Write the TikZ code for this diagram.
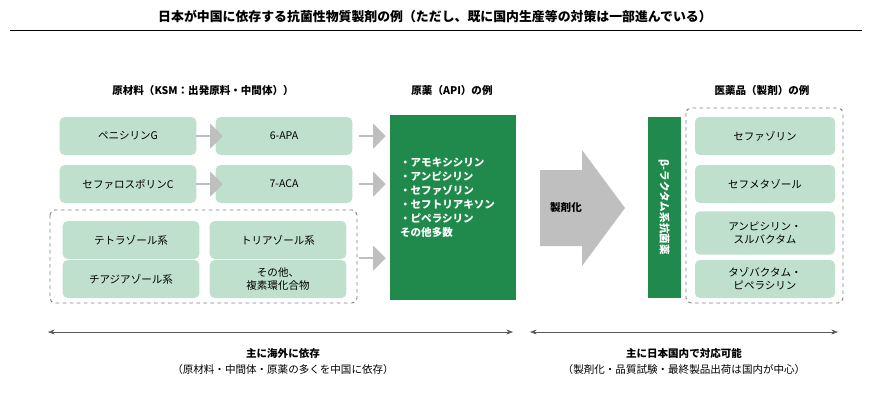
\documentclass[tikz,border=0pt]{standalone}
\usepackage{fontspec}
\setmainfont{Noto Sans CJK JP}
\usetikzlibrary{positioning,arrows.meta,shapes.arrows}
\definecolor{lgreen}{HTML}{BFE0CC}
\definecolor{dgreen}{HTML}{1F8A4C}
\definecolor{garrow}{HTML}{BFBFBF}
\begin{document}
\begin{tikzpicture}[x=0.03cm,y=-0.03cm,
                lbox/.style={rectangle, rounded corners=1.5mm, fill=lgreen, minimum width=4.1cm, minimum height=1.14cm, align=center, font=\fontsize{9}{11}\selectfont},
                rbox/.style={lbox, minimum width=4.2cm},
                dbox/.style={rectangle, fill=dgreen, text=white, font=\bfseries\fontsize{9}{12}\selectfont},
                garr/.style={single arrow, fill=garrow, minimum height=0.8cm, minimum width=0.75cm, single arrow head extend=0.1cm, inner sep=0pt},
                dashbox/.style={draw=gray, dashed, thick, rounded corners=1.5mm},
                head/.style={font=\bfseries\fontsize{9}{11}\selectfont},
            ]
            \useasboundingbox (0,0) rectangle (870,410);
            \node[font=\bfseries\fontsize{11}{13}\selectfont] (title) at (435,17) {日本が中国に依存する抗菌性物質製剤の例（ただし、既に国内生産等の対策は一部進んでいる）};
            \draw (10,30) -- (862,30);
            \node[head] (hksm) at (203,90) {原材料（KSM：出発原料・中間体））};
            \node[head] (hapi) at (452,90) {原薬（API）の例};
            \node[head] (hdrug) at (762,90) {医薬品（製剤）の例};

            \node[lbox] (pen)  at (128,136) {ペニシリンG};
            \node[lbox] (apa)  at (284,136) {6-APA};
            \node[lbox] (cep)  at (128,184) {セファロスポリンC};
            \node[lbox] (aca)  at (284,184) {7-ACA};
            \node[lbox] (tetra) at (131,240) {テトラゾール系};
            \node[lbox] (tria)  at (278,240) {トリアゾール系};
            \node[lbox] (thia)  at (131,279) {チアジアゾール系};
            \node[lbox] (other) at (278,279) {その他、\\複素環化合物};
            \draw[dashbox] (50,210) rectangle (357,303);

            \node[garr] (a1) at (209,136) {};
            \node[garr] (a2) at (209,184) {};
            \node[garr] (a3) at (372,136) {};
            \node[garr] (a4) at (372,184) {};
            \node[garr] (a5) at (372,258) {};

            \node[dbox, minimum width=3.78cm, minimum height=5.55cm] (api) at (453,207) {};
            \node[dbox, align=left, anchor=west] (apilist) at (396,198) {・アモキシシリン\\・アンピシリン\\・セファゾリン\\・セフトリアキソン\\・ピペラシリン\\その他多数};

            % big arrow
            \fill[garrow] (540,170) -- (582,170) -- (582,150) -- (625,208) -- (582,266) -- (582,246) -- (540,246) -- cycle;
            \node[head] (formlbl) at (566,208) {製剤化};

            \node[dbox, minimum width=0.99cm, minimum height=5.43cm] (beta) at (664,207) {};
            \node[dbox, rotate=-90, font=\bfseries\fontsize{9}{11}\selectfont] (betalbl) at (664,207) {β-ラクタム系抗菌薬};

            \draw[dashbox] (686,108) rectangle (843,303);
            \node[rbox] (cfz) at (765,136) {セファゾリン};
            \node[rbox] (cmz) at (765,184) {セフメタゾール};
            \node[rbox, minimum height=1.3cm] (abpc) at (765,233) {アンピシリン・\\スルバクタム};
            \node[rbox] (tazo) at (765,279) {タゾバクタム・\\ピペラシリン};

            \coordinate (l1) at (48,332);
            \coordinate (l2) at (513,332);
            \coordinate (r1) at (530,332);
            \coordinate (r2) at (838,332);
            \draw[{Stealth[length=2mm]}-{Stealth[length=2mm]}, gray!70!black] (l1) -- (l2);
            \draw[{Stealth[length=2mm]}-{Stealth[length=2mm]}, gray!70!black] (r1) -- (r2);
            \node[head] (abroad) at (283,353) {主に海外に依存};
            \node[font=\fontsize{9}{11}\selectfont] (abroad2) at (283,369) {（原材料・中間体・原薬の多くを中国に依存）};
            \node[head] (domestic) at (684,353) {主に日本国内で対応可能};
            \node[font=\fontsize{9}{11}\selectfont] (domestic2) at (684,369) {（製剤化・品質試験・最終製品出荷は国内が中心）};
        \end{tikzpicture}
\end{document}
